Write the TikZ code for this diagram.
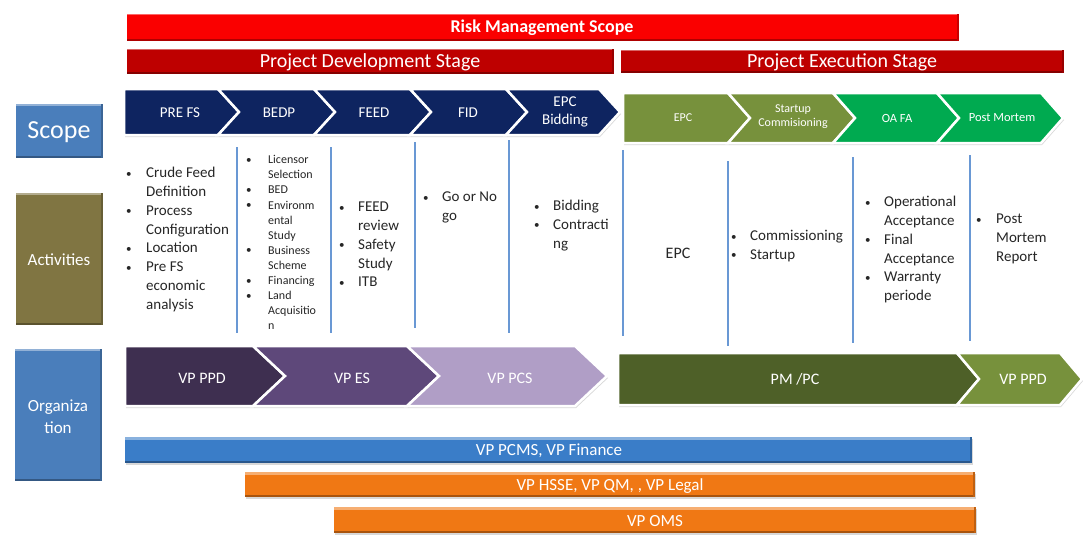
\documentclass[tikz,border=0pt]{standalone}
\usepackage{fontspec}
\setmainfont{Carlito}
\usetikzlibrary{shadows}

\definecolor{riskred}{RGB}{250,0,0}
\definecolor{stagered}{RGB}{190,0,0}
\definecolor{scopenavy}{RGB}{14,36,96}
\definecolor{epcolive}{RGB}{119,145,60}
\definecolor{oagreen}{RGB}{0,170,80}
\definecolor{boxblue}{RGB}{74,126,187}
\definecolor{actkhaki}{RGB}{128,117,66}
\definecolor{vpdark}{RGB}{62,47,80}
\definecolor{vpmid}{RGB}{94,72,122}
\definecolor{vplight}{RGB}{176,158,198}
\definecolor{pmolive}{RGB}{78,96,40}
\definecolor{colblue}{RGB}{105,152,212}
\definecolor{barblue}{RGB}{58,125,200}
\definecolor{barorange}{RGB}{240,120,20}

\newcommand{\fsz}[2]{\fontsize{#1}{#2}\selectfont}
\newcommand{\bul}{\raisebox{0.5pt}{\fsz{11}{11}\textbullet}}
% fill, back x, front x, top y, bottom y, tip depth, notch depth
\newcommand{\chev}[7]{\draw[chev,fill=#1] (#2,#4) -- (#3,#4) -- ({#3+#6},{(#4+#5)/2}) -- (#3,#5) -- (#2,#5) -- ({#2+#7},{(#4+#5)/2}) -- cycle;}
% colour, corners, edge width: flat fill with light top and dark bottom edge
\newcommand{\bevel}[6]{%
  \fill[#1!60!white] (#2,#3) rectangle (#4,{#3+#6});
  \fill[#1!70!black] (#2,{#5-#6}) rectangle (#4,#5);
  \fill[#1!80!black] ({#4-#6},#3) rectangle (#4,#5);}

\begin{document}
\begin{tikzpicture}[x=1pt,y=-1pt,
  shade/.style={drop shadow={opacity=0.3,shadow xshift=1pt,shadow yshift=-2pt}},
  chev/.style={draw=white,line width=2.5pt,line join=miter,shade},
  topbar/.style={draw=white,line width=3pt,shade},
  sidebox/.style={draw=white,line width=3.5pt,shade},
  orgbar/.style={shade,fill=#1},
  lab/.style={text=white,align=center,inner sep=0pt},
  act/.style={anchor=north west,inner sep=0pt,text=black!85,align=left},
  colline/.style={colblue,line width=1.2pt}]
\useasboundingbox[fill=white] (0,0) rectangle (1083,536);

% top bars
\draw[topbar,fill=riskred] (125,12) rectangle (960,42);
\bevel{riskred}{126.5}{13.5}{958.5}{40.5}{1.5}
\node[lab,font=\fsz{18}{20}\bfseries] (risk) at (542,28) {Risk Management Scope};
\draw[topbar,fill=stagered] (125,47) rectangle (615,75);
\bevel{stagered}{126.5}{48.5}{613.5}{73.5}{1.5}
\node[lab,font=\fsz{20}{22}] (devstage) at (370,62) {Project Development Stage};
\draw[topbar,fill=stagered] (619,48) rectangle (1065,74);
\bevel{stagered}{620.5}{49.5}{1063.5}{72.5}{1.5}
\node[lab,font=\fsz{20}{22}] (exestage) at (842,62) {Project Execution Stage};

% side boxes
\draw[sidebox,fill=boxblue] (14,102) rectangle (105,160);
\bevel{boxblue}{15.75}{103.75}{103.25}{158.25}{2.5}
\node[lab,font=\fsz{26}{28}] (scope) at (59,132) {Scope};
\draw[sidebox,fill=actkhaki] (14,191) rectangle (105,327);
\bevel{actkhaki}{15.75}{192.75}{103.25}{325.25}{2.5}
\node[lab,font=\fsz{17}{22}] (activities) at (59,260) {Activities};
\draw[sidebox,fill=boxblue] (13,347) rectangle (104,483);
\bevel{boxblue}{14.75}{348.75}{102.25}{481.25}{2.5}
\node[lab,font=\fsz{17}{22}] (organization) at (58,417) {Organiza\\tion};

% scope chevrons
\chev{scopenavy}{124}{218}{89}{135}{21}{0}
\chev{scopenavy}{218}{314}{89}{135}{21}{21}
\chev{scopenavy}{314}{410}{89}{135}{21}{21}
\chev{scopenavy}{410}{506}{89}{135}{21}{21}
\chev{scopenavy}{506}{599}{89}{135}{21}{21}
\node[lab,font=\fsz{15}{17}] (prefs) at (180,113) {PRE FS};
\node[lab,font=\fsz{15}{17}] (bedp) at (279,113) {BEDP};
\node[lab,font=\fsz{15}{17}] (feed) at (374,113) {FEED};
\node[lab,font=\fsz{15}{17}] (fid) at (468,113) {FID};
\node[lab,font=\fsz{15}{18}] (bidding) at (565,112) {EPC\\Bidding};

\chev{epcolive}{623}{728}{93}{143}{22}{0}
\chev{epcolive}{728}{833}{93}{143}{22}{22}
\chev{oagreen}{833}{937}{93}{143}{22}{22}
\chev{oagreen}{937}{1041}{93}{143}{22}{22}
\node[lab,font=\fsz{12}{14}] (epc) at (683,118) {EPC};
\node[lab,font=\fsz{12}{14}] (startup) at (793,117) {Startup\\Commisioning};
\node[lab,font=\fsz{12.5}{14}] (oafa) at (897,118) {OA FA};
\node[lab,font=\fsz{12.5}{14}] (postm) at (1002,118) {Post Mortem};

% column separators
\foreach \xa/\ya/\yb in {237/147/333,331/147/333,415/142/328,509/140/333,623/150/336,728/161/346,853/157/343,970/155/341}
  \draw[colline] (\xa,\ya) -- (\xa,\yb);

% activities
\node[act,font=\fsz{15}{18.8}] (crude) at (126,164.3) {\begin{tabular}{@{}p{20pt}@{}l@{}}
\bul & Crude Feed\\ & Definition\\ \bul & Process\\ & Configuration\\
\bul & Location\\ \bul & Pre FS\\ & economic\\ & analysis\end{tabular}};
\node[act,font=\fsz{12}{15.1}] (licensor) at (246,153) {\begin{tabular}{@{}p{22pt}@{}l@{}}
\bul & Licensor\\ & Selection\\ \bul & BED\\ \bul & Environm\\ & ental\\ & Study\\
\bul & Business\\ & Scheme\\ \bul & Financing\\ \bul & Land\\ & Acquisitio\\ & n\end{tabular}};
\node[act,font=\fsz{15}{18.8}] (feedrev) at (339,198.3) {\begin{tabular}{@{}p{19pt}@{}l@{}}
\bul & FEED\\ & review\\ \bul & Safety\\ & Study\\ \bul & ITB\end{tabular}};
\node[act,font=\fsz{15}{18.8}] (gonogo) at (423,188.3) {\begin{tabular}{@{}p{19pt}@{}l@{}}
\bul & Go or No\\ & go\end{tabular}};
\node[act,font=\fsz{15}{18.8}] (contract) at (534,197.3) {\begin{tabular}{@{}p{19pt}@{}l@{}}
\bul & Bidding\\ \bul & Contracti\\ & ng\end{tabular}};
\node[lab,text=black!85,font=\fsz{16}{18}] (epcact) at (678,253) {EPC};
\node[act,font=\fsz{15}{18.8}] (commis) at (731,227.3) {\begin{tabular}{@{}p{19pt}@{}l@{}}
\bul & Commissioning\\ \bul & Startup\end{tabular}};
\node[act,font=\fsz{15}{18.8}] (operat) at (865,193.3) {\begin{tabular}{@{}p{19pt}@{}l@{}}
\bul & Operational\\ & Acceptance\\ \bul & Final\\ & Acceptance\\
\bul & Warranty\\ & periode\end{tabular}};
\node[act,font=\fsz{15}{18.8}] (report) at (976,210.3) {\begin{tabular}{@{}p{20pt}@{}l@{}}
\bul & Post\\ & Mortem\\ & Report\end{tabular}};

% organization chevrons
\chev{vpdark}{125}{253}{346}{406}{32}{0}
\chev{vpmid}{253}{407}{346}{406}{32}{32}
\chev{vplight}{407}{575}{346}{406}{32}{32}
\chev{pmolive}{618}{957}{353}{405}{22}{0}
\chev{epcolive}{957}{1060}{353}{405}{22}{22}
\node[lab,font=\fsz{16}{18}] (vpppd) at (202,378) {VP PPD};
\node[lab,font=\fsz{16}{18}] (vpes) at (352,378) {VP ES};
\node[lab,font=\fsz{16}{18}] (vppcs) at (510,378) {VP PCS};
\node[lab,font=\fsz{16}{18}] (pmpc) at (795,379) {PM /PC};
\node[lab,font=\fsz{16}{18}] (vpppdb) at (1023,379) {VP PPD};

% support bars
\fill[orgbar=barblue] (125,437) rectangle (972,463);
\bevel{barblue}{125}{437}{972}{463}{2.5}
\node[lab,font=\fsz{17}{19}] (pcms) at (549,451) {VP PCMS, VP Finance};
\fill[orgbar=barorange] (245,472) rectangle (975,497);
\bevel{barorange}{245}{472}{975}{497}{2.5}
\node[lab,font=\fsz{17}{19}] (hsse) at (610,486) {VP HSSE, VP QM, , VP Legal};
\fill[orgbar=barorange] (334,507) rectangle (976,533);
\bevel{barorange}{334}{507}{976}{533}{2.5}
\node[lab,font=\fsz{17}{19}] (oms) at (655,521) {VP OMS};
\end{tikzpicture}
\end{document}
